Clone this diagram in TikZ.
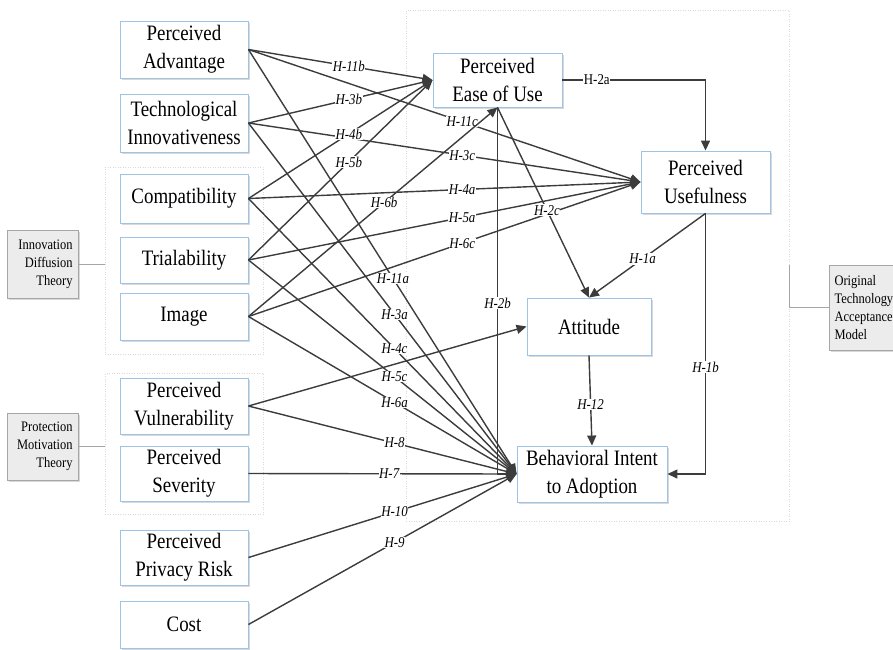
\documentclass[tikz,border=0pt]{standalone}
\usepackage{fontspec}
\setmainfont{Liberation Serif}[FakeStretch=0.86]
\usetikzlibrary{arrows.meta,shadows}
\definecolor{boxblue}{HTML}{9DC3E6}
\definecolor{lin}{HTML}{3C3C3C}
\definecolor{grpc}{HTML}{DADADA}
\definecolor{sidebd}{HTML}{A6A6A6}
\definecolor{sidefill}{HTML}{ECECEC}
\tikzset{
  var/.style={draw=boxblue, line width=0.9pt, fill=white, align=center, inner sep=0pt,
    font=\fontsize{22}{28}\selectfont,
    drop shadow={shadow xshift=2pt, shadow yshift=-2pt, fill=black!15, opacity=1}},
  side/.style={draw=sidebd, line width=0.8pt, fill=sidefill, inner sep=0pt,
    font=\fontsize{14.5}{18}\selectfont,
    drop shadow={shadow xshift=2pt, shadow yshift=-2pt, fill=black!15, opacity=1}},
  grp/.style={draw=grpc, dotted, line width=0.5pt, inner sep=0pt},
  arr/.style={draw=lin, line width=1.4pt, -{Triangle[length=10pt,width=9pt]}},
  plain/.style={draw=sidebd, line width=0.8pt},
  lbl/.style={fill=white, inner sep=0.6pt, text=black, font=\itshape\fontsize{15}{15}\selectfont, pos=0.545},
  lblu/.style={fill=white, inner sep=0.6pt, text=black, font=\fontsize{15}{15}\selectfont}
}
\begin{document}
\begin{tikzpicture}[x=1pt,y=-1pt]
\useasboundingbox (0,0) rectangle (893,649);
\clip (0,0) rectangle (893,649);
% group frames
\node[grp, minimum width=158pt, minimum height=187pt] (g1) at (184,260.5) {};
\node[grp, minimum width=158pt, minimum height=141pt] (g2) at (184,443.5) {};
\node[grp, minimum width=383pt, minimum height=511pt] (tg) at (597.5,265.5) {};
% left variables
\node[var, minimum width=128pt, minimum height=57pt] (pa) at (184,49.5) {Perceived\\Advantage};
\node[var, minimum width=128pt, minimum height=58pt] (ti) at (184,123) {Technological\\Innovativeness};
\node[var, minimum width=128pt, minimum height=49pt] (cp) at (184,198.5) {Compatibility};
\node[var, minimum width=128pt, minimum height=46pt] (tr) at (184,260) {Trialability};
\node[var, minimum width=128pt, minimum height=47pt] (im) at (184,316.5) {Image};
\node[var, minimum width=128pt, minimum height=56pt] (vu) at (184,406) {Perceived\\Vulnerability};
\node[var, minimum width=128pt, minimum height=55pt] (se) at (184,473.5) {Perceived\\Severity};
\node[var, minimum width=128pt, minimum height=55pt] (pr) at (184,557.5) {Perceived\\Privacy Risk};
\node[var, minimum width=128pt, minimum height=47pt] (co) at (184,624.5) {Cost};
% TAM variables
\node[var, minimum width=129pt, minimum height=54pt] (peou) at (497.5,80) {Perceived\\Ease of Use};
\node[var, minimum width=129pt, minimum height=62pt] (pu) at (705.5,182) {Perceived\\Usefulness};
\node[var, minimum width=124pt, minimum height=57pt] (att) at (589,326.5) {Attitude};
\node[var, minimum width=150pt, minimum height=56pt] (bi) at (592,474) {Behavioral Intent\\to Adoption};
% theory boxes
\node[side, minimum width=71pt, minimum height=68pt, align=right, text width=60pt] (idt) at (42.5,264) {Innovation\\Diffusion\\Theory};
\node[side, minimum width=71pt, minimum height=67pt, align=right, text width=60pt] (pmt) at (42.5,446.5) {Protection\\Motivation\\Theory};
\node[side, minimum width=71pt, minimum height=85pt, align=left, text width=60pt] (tam) at (864.5,307.5) {Original\\Technology\\Acceptance\\Model};
\draw[plain] (idt.east) -- (idt.east -| g1.west);
\draw[plain] (pmt.east) -- (pmt.east -| g2.west);
\draw[plain] (tam.north -| tg.east) |- (tam.west);
% hypotheses
\draw[arr] (pa.east) -- node[lbl]{H-11b} (peou.west);
\draw[arr] (pa.east) -- node[lbl]{H-11c} (pu.west);
\draw[arr] (pa.east) -- node[lbl, pos=0.539]{H-11a} (bi.west);
\draw[arr] (ti.east) -- node[lbl]{H-3b} (peou.west);
\draw[arr] (ti.east) -- node[lbl]{H-3c} (pu.west);
\draw[arr] (ti.east) -- node[lbl]{H-3a} (bi.west);
\draw[arr] (cp.east) -- node[lbl]{H-4b} (peou.west);
\draw[arr] (cp.east) -- node[lbl]{H-4a} (pu.west);
\draw[arr] (cp.east) -- node[lbl]{H-4c} (bi.west);
\draw[arr] (tr.east) -- node[lbl]{H-5b} (peou.west);
\draw[arr] (tr.east) -- node[lbl]{H-5a} (pu.west);
\draw[arr] (tr.east) -- node[lbl]{H-5c} (bi.west);
\draw[arr] (im.east) -- node[lbl]{H-6b} (peou.south);
\draw[arr] (im.east) -- node[lbl]{H-6c} (pu.west);
\draw[arr] (im.east) -- node[lbl]{H-6a} (bi.west);
\draw[arr] (vu.east) -- (att.west);
\draw[arr] (vu.east) -- node[lbl]{H-8} (bi.west);
\draw[arr] (se.east) -- node[lbl, pos=0.525]{H-7} (bi.west);
\draw[arr] (pr.east) -- node[lbl]{H-10} (bi.west);
\draw[arr] (co.east) -- node[lbl]{H-9} (bi.west);
\draw[arr] (peou.east) -| node[lblu, pos=0.12]{H-2a} (pu.north);
\draw[arr] (peou.south) -- node[lbl, pos=0.54]{H-2c} (att.north);
\draw[arr] (peou.south) |- node[lbl, pos=0.267]{H-2b} (bi.west);
\draw[arr] (pu.south) -- node[lbl, pos=0.54]{H-1a} (att.north);
\draw[arr] (pu.south) |- node[lbl, pos=0.295]{H-1b} (bi.east);
\draw[arr] (att.south) -- node[lbl, pos=0.54]{H-12} (bi.north);
\end{tikzpicture}
\end{document}
